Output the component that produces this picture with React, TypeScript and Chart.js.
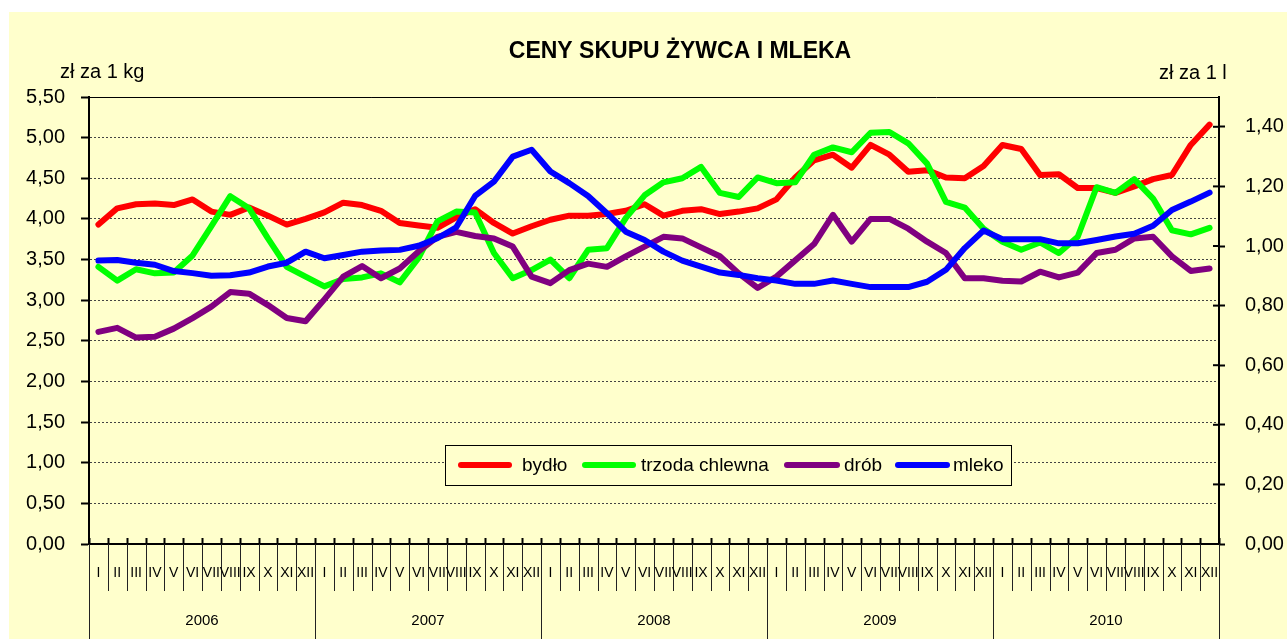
import React, { useEffect, useRef } from 'react';
import { Chart, registerables } from 'chart.js';

Chart.register(...registerables);

const monthNames = ['I', 'II', 'III', 'IV', 'V', 'VI', 'VII', 'VIII', 'IX', 'X', 'XI', 'XII'];
const years = ['2006', '2007', '2008', '2009', '2010'];
const categories = years.flatMap(() => monthNames);

const bydlo = [
  3.93, 4.13, 4.18, 4.19, 4.17, 4.24, 4.09, 4.05, 4.14, 4.04, 3.93, 4.0,
  4.08, 4.2, 4.17, 4.1, 3.95, 3.92, 3.89, 4.02, 4.12, 3.95, 3.82, 3.91,
  3.99, 4.04, 4.04, 4.06, 4.1, 4.18, 4.04, 4.1, 4.12, 4.06, 4.09, 4.13,
  4.24, 4.51, 4.72, 4.79, 4.63, 4.91, 4.79, 4.58, 4.6, 4.51, 4.5, 4.65,
  4.91, 4.86, 4.54, 4.55, 4.38, 4.38, 4.32, 4.4, 4.49, 4.54, 4.91, 5.16,
];
const trzoda = [
  3.41, 3.24, 3.38, 3.33, 3.34, 3.55, 3.91, 4.28, 4.13, 3.76, 3.41, 3.29,
  3.17, 3.26, 3.28, 3.33, 3.22, 3.52, 3.97, 4.09, 4.08, 3.58, 3.27, 3.37,
  3.5, 3.27, 3.62, 3.64, 4.01, 4.29, 4.45, 4.5, 4.64, 4.32, 4.27, 4.51,
  4.44, 4.45, 4.79, 4.88, 4.82, 5.06, 5.07, 4.93, 4.68, 4.21, 4.14, 3.88,
  3.72, 3.62, 3.71, 3.58, 3.78, 4.39, 4.32, 4.49, 4.25, 3.86, 3.81, 3.89,
];
const drob = [
  2.61, 2.66, 2.54, 2.55, 2.65, 2.78, 2.92, 3.1, 3.08, 2.94, 2.78, 2.74,
  3.01, 3.29, 3.42, 3.27, 3.39, 3.6, 3.78, 3.84, 3.79, 3.76, 3.66, 3.29,
  3.21, 3.37, 3.45, 3.41, 3.54, 3.66, 3.78, 3.76, 3.65, 3.54, 3.33, 3.15,
  3.29, 3.49, 3.69, 4.05, 3.72, 4.0, 4.0, 3.88, 3.72, 3.58, 3.27, 3.27,
  3.24, 3.23, 3.35, 3.28, 3.34, 3.58, 3.62, 3.76, 3.78, 3.54, 3.36, 3.39,
];
const mleko = [
  0.951, 0.953, 0.944, 0.937, 0.916, 0.909, 0.9, 0.902, 0.911, 0.931, 0.944, 0.981,
  0.959, 0.97, 0.981, 0.985, 0.987, 1.001, 1.026, 1.063, 1.168, 1.216, 1.3, 1.323,
  1.25, 1.211, 1.168, 1.11, 1.048, 1.02, 0.981, 0.951, 0.931, 0.911, 0.903, 0.892,
  0.884, 0.873, 0.873, 0.884, 0.873, 0.862, 0.862, 0.862, 0.88, 0.92, 0.993, 1.052,
  1.023, 1.023, 1.023, 1.009, 1.009, 1.02, 1.032, 1.041, 1.068, 1.121, 1.149, 1.179,
];

const seriesNames = ['bydło', 'trzoda chlewna', 'drób', 'mleko'];
const seriesColors = ['#FF0000', '#00FF00', '#800080', '#0000FF'];

const titleText = 'CENY SKUPU ŻYWCA I MLEKA';
const leftUnit = 'zł za 1 kg';
const rightUnit = 'zł za 1 l';

const FONT = '"Liberation Sans", Arial, sans-serif';
const fmt = (v: number) => v.toFixed(2).replace('.', ',');

const decor = {
  id: 'decor',
  afterDraw(chart: any) {
    const ctx = chart.ctx as CanvasRenderingContext2D;
    const { left, right, top, bottom } = chart.chartArea;
    const H = chart.height;
    const n = categories.length;
    const w = (right - left) / n;
    ctx.save();
    ctx.setLineDash([]);
    ctx.strokeStyle = '#000';

    // top border of plot
    ctx.lineWidth = 1;
    ctx.beginPath();
    ctx.moveTo(left, Math.round(top) + 0.5);
    ctx.lineTo(right, Math.round(top) + 0.5);
    ctx.stroke();

    // x axis line
    ctx.lineWidth = 2;
    ctx.beginPath();
    ctx.moveTo(left, bottom);
    ctx.lineTo(right, bottom);
    ctx.stroke();

    // category boundaries
    for (let i = 0; i <= n; i++) {
      const bx = Math.round(left + i * w) + 0.5;
      ctx.lineWidth = 2;
      ctx.beginPath();
      ctx.moveTo(bx, bottom - 6);
      ctx.lineTo(bx, bottom);
      ctx.stroke();
      ctx.lineWidth = 1;
      ctx.strokeStyle = '#222';
      ctx.beginPath();
      ctx.moveTo(bx, bottom);
      ctx.lineTo(bx, i % 12 === 0 ? H : bottom + 47);
      ctx.stroke();
      ctx.strokeStyle = '#000';
    }

    // right axis inner tick halves
    const y1 = chart.scales.y1;
    ctx.lineWidth = 2;
    y1.ticks.forEach((t: any) => {
      const yy = y1.getPixelForValue(t.value);
      ctx.beginPath();
      ctx.moveTo(right - 6, yy);
      ctx.lineTo(right, yy);
      ctx.stroke();
    });

    // month labels
    ctx.fillStyle = '#000';
    ctx.textAlign = 'center';
    ctx.textBaseline = 'middle';
    ctx.font = `14px ${FONT}`;
    const xs = chart.scales.x;
    categories.forEach((lab, i) => {
      ctx.fillText(lab, xs.getPixelForValue(i), bottom + 29);
    });
    // year labels
    ctx.font = `15px ${FONT}`;
    years.forEach((yr, k) => {
      const cx = left + (k * 12 + 6) * w;
      ctx.fillText(yr, cx, bottom + 77);
    });

    // title
    ctx.font = `bold 23px ${FONT}`;
    ctx.fillText(titleText, 671, 40);

    // unit labels
    ctx.font = `20px ${FONT}`;
    ctx.textAlign = 'left';
    ctx.fillText(leftUnit, 51, 60);
    ctx.fillText(rightUnit, 1150, 61);

    // legend
    const bx0 = 436, by0 = 433, bw = 566, bh = 40;
    ctx.fillStyle = '#FFFFCC';
    ctx.fillRect(bx0, by0, bw, bh);
    ctx.lineWidth = 1;
    ctx.strokeStyle = '#000';
    ctx.strokeRect(bx0 + 0.5, by0 + 0.5, bw, bh);
    const ly = 453;
    const items = [
      { l1: 452, l2: 500, tx: 513 },
      { l1: 576, l2: 624, tx: 632 },
      { l1: 778, l2: 828, tx: 835 },
      { l1: 889, l2: 938, tx: 944 },
    ];
    ctx.font = `19px ${FONT}`;
    ctx.lineCap = 'round';
    chart.data.datasets.forEach((ds: any, i: number) => {
      const it = items[i];
      ctx.strokeStyle = ds.borderColor;
      ctx.lineWidth = 6;
      ctx.beginPath();
      ctx.moveTo(it.l1, ly);
      ctx.lineTo(it.l2, ly);
      ctx.stroke();
      ctx.fillStyle = '#000';
      ctx.fillText(ds.label, it.tx, ly + 1);
    });
    ctx.restore();
  },
};

export default function App() {
  const ref = useRef<HTMLCanvasElement | null>(null);
  useEffect(() => {
    document.body.style.overflow = 'hidden';
    const canvas = ref.current!;
    const values = [bydlo, trzoda, drob, mleko];
    const chart = new Chart(canvas, {
      type: 'line',
      data: {
        labels: categories,
        datasets: values.map((d, i) => ({
          label: seriesNames[i],
          data: d,
          borderColor: seriesColors[i],
          backgroundColor: seriesColors[i],
          borderWidth: 6,
          pointRadius: 0,
          tension: 0,
          fill: false,
          borderJoinStyle: 'round' as const,
          borderCapStyle: 'round' as const,
          yAxisID: i === 3 ? 'y1' : 'y',
          order: 4 - i,
        })),
      },
      options: {
        responsive: false,
        maintainAspectRatio: false,
        animation: false,
        devicePixelRatio: 1,
        layout: { padding: { top: 85, left: 0, right: 0, bottom: 0 } },
        plugins: {
          legend: { display: false },
          title: { display: false },
          tooltip: { enabled: false },
        },
        scales: {
          x: {
            type: 'category',
            offset: true,
            grid: { display: false },
            border: { display: false },
            ticks: { display: false },
            afterFit: (s: any) => { s.height = 95; },
          },
          y: {
            position: 'left',
            min: 0,
            max: 5.5,
            ticks: {
              stepSize: 0.5,
              padding: 16,
              color: '#000',
              font: { family: FONT, size: 20 },
              callback: (v: any) => fmt(Number(v)),
            },
            grid: {
              color: '#444',
              lineWidth: 1,
              tickLength: 8,
              tickWidth: 2,
              tickColor: '#000',
              tickBorderDash: [],
            },
            border: { display: true, color: '#000', width: 2, dash: [2, 2] },
            afterFit: (s: any) => { s.width = 80; },
          },
          y1: {
            position: 'right',
            min: 0,
            max: 1.5,
            ticks: {
              stepSize: 0.2,
              includeBounds: false,
              padding: 20,
              color: '#000',
              font: { family: FONT, size: 20 },
              callback: (v: any) => fmt(Number(v)),
            },
            grid: {
              drawOnChartArea: false,
              drawTicks: true,
              tickLength: 6,
              tickWidth: 2,
              tickColor: '#000',
              color: '#000',
            },
            border: { display: true, color: '#000', width: 2 },
            afterFit: (s: any) => { s.width = 68; },
          },
        },
      },
      plugins: [decor],
    } as any);
    return () => chart.destroy();
  }, []);

  return (
    <div style={{ position: 'absolute', left: 9, top: 12, width: 1278, height: 627 }}>
      <canvas
        ref={ref}
        width={1278}
        height={627}
        style={{ display: 'block', width: 1278, height: 627, background: '#FFFFCC' }}
      />
    </div>
  );
}
